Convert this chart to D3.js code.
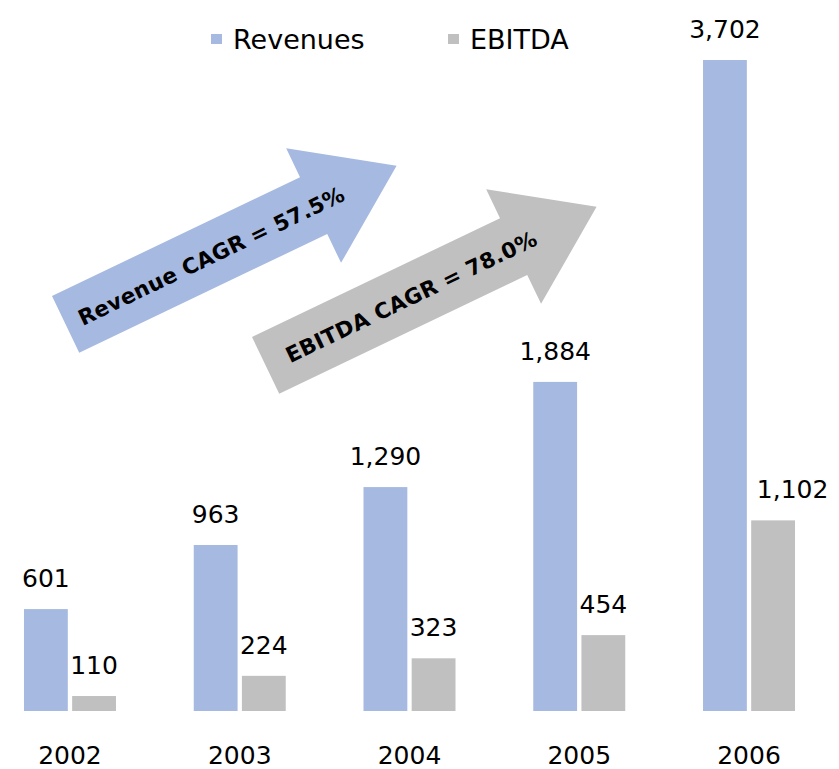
<!DOCTYPE html>
<html>
<head>
<meta charset="utf-8">
<script src="https://cdn.jsdelivr.net/npm/d3@7"></script>
<style>
  html, body { margin: 0; padding: 0; background: #fff; }
  svg { display: block; }
  text { font-family: "DejaVu Sans", Verdana, sans-serif; fill: #000; }
</style>
</head>
<body>
<svg id="chart" width="839" height="769"></svg>
<script>
var years = ['2002', '2003', '2004', '2005', '2006'];
var revenues = [601, 963, 1290, 1884, 3702];
var ebitda = [110, 224, 323, 454, 1102];
var seriesNames = ['Revenues', 'EBITDA'];
var seriesColors = ['#a6b9e0', '#c0c0c0'];
var cagrLabels = ['Revenue CAGR = 57.5%', 'EBITDA CAGR = 78.0%'];

var width = 839, height = 769;
var baseline = 711;
var svg = d3.select('#chart');
var fmt = d3.format(',');

// value scale: zero sits a few px under the drawn baseline, as in the original
var y = d3.scaleLinear().domain([0, 3702]).range([715.5, 60]);

var x = d3.scaleBand().domain(years).range([-14.9, 833.9]).padding(0);
var xs = d3.scaleBand().domain(seriesNames).range([-46, 46]).paddingInner(0.09);

var rows = years.map(function(yr, i) {
  return { year: yr, values: [revenues[i], ebitda[i]] };
});

var groups = svg.selectAll('.group').data(rows).enter().append('g')
  .attr('class', 'group')
  .attr('transform', function(d) { return 'translate(' + (x(d.year) + x.bandwidth() / 2) + ',0)'; });

groups.selectAll('rect').data(function(d) {
  return d.values.map(function(v, j) { return { name: seriesNames[j], value: v, idx: j }; });
}).enter().append('rect')
  .attr('x', function(d) { return xs(d.name); })
  .attr('y', function(d) { return y(d.value); })
  .attr('width', xs.bandwidth())
  .attr('height', function(d) { return baseline - y(d.value); })
  .style('fill', function(d) { return seriesColors[d.idx]; });

// value labels, pushed right when they would run into the taller neighbour bar
groups.each(function(d) {
  var g = d3.select(this);
  d.values.forEach(function(v, j) {
    var name = seriesNames[j];
    var cx = xs(name) + xs.bandwidth() / 2;
    var t = g.append('text')
      .attr('x', cx)
      .attr('y', y(v) - 22)
      .attr('text-anchor', 'middle')
      .style('font-size', '25px')
      .text(fmt(v));
    if (j === 1 && y(v) - 22 - 18 > y(d.values[0])) {
      var w = t.node().getComputedTextLength();
      var left = cx - w / 2;
      var revRight = xs(seriesNames[0]) + xs.bandwidth();
      if (left < revRight + 2) {
        t.attr('text-anchor', 'start').attr('x', revRight + 10);
      }
    }
  });
});

// category labels
svg.selectAll('.year').data(years).enter().append('text')
  .attr('class', 'year')
  .attr('x', function(d) { return x(d) + x.bandwidth() / 2; })
  .attr('y', 764)
  .attr('text-anchor', 'middle')
  .style('font-size', '25px')
  .text(function(d) { return d; });

// legend
var legendX = [211, 448];
var legend = svg.selectAll('.legend').data(seriesNames).enter().append('g')
  .attr('class', 'legend')
  .attr('transform', function(d, i) { return 'translate(' + legendX[i] + ',0)'; });
legend.append('rect')
  .attr('x', 0).attr('y', 34).attr('width', 11).attr('height', 10)
  .style('fill', function(d, i) { return seriesColors[i]; });
legend.append('text')
  .attr('x', 22).attr('y', 49)
  .style('font-size', '27px')
  .text(function(d) { return d; });

// CAGR arrows
var arrowOrigins = [[52, 296], [252, 337]];
var angle = -25.6;
var shaftLen = 275, shaftW = 63, headOut = 32, tipLen = 367;
var arrowPts = [
  [0, 0], [shaftLen, 0], [shaftLen, -headOut], [tipLen, shaftW / 2],
  [shaftLen, shaftW + headOut], [shaftLen, shaftW], [0, shaftW]
];

var arrows = svg.selectAll('.arrow').data(cagrLabels).enter().append('g')
  .attr('class', 'arrow')
  .attr('transform', function(d, i) {
    return 'translate(' + arrowOrigins[i][0] + ',' + arrowOrigins[i][1] + ') rotate(' + angle + ')';
  });
arrows.append('path')
  .attr('d', d3.line()(arrowPts) + 'Z')
  .style('fill', function(d, i) { return seriesColors[i]; });
arrows.append('text')
  .attr('x', 161)
  .attr('y', shaftW / 2 + 1)
  .attr('dy', '0.36em')
  .attr('text-anchor', 'middle')
  .style('font-size', '21.5px')
  .style('font-weight', 'bold')
  .style('letter-spacing', '0.3px')
  .text(function(d) { return d; });
</script>
</body>
</html>
